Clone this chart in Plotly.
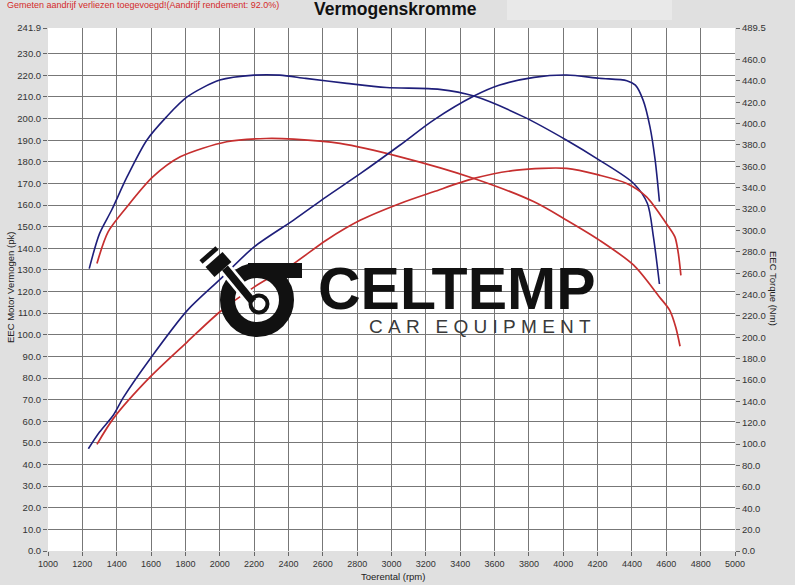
import numpy as np
import plotly.graph_objects as go

# Dyno run values
rpm_pk_blue = [1240, 1300, 1370, 1460, 1575, 1690, 1810, 2000, 2200, 2350, 2500, 2740,
               2970, 3280, 3480, 3770, 4020, 4210, 4410, 4490, 4525, 4560]
pk_blue = [130.6, 146.8, 157.6, 173.0, 190.0, 200.8, 210.0, 217.8, 220.1, 220.1, 218.6, 216.3,
           214.4, 213.5, 210.4, 200.8, 190.0, 180.8, 170.0, 160.7, 145.3, 123.5]

rpm_nm_blue = [1235, 1300, 1380, 1440, 1595, 1810, 2000, 2200, 2430, 2620, 2820, 3050,
               3245, 3480, 3630, 3830, 4020, 4210, 4370, 4420, 4465, 4505, 4535, 4560]
nm_blue = [95.7, 111.3, 127.0, 144.0, 180.0, 225.0, 254.0, 284.6, 309.7, 331.5, 353.4, 380.0,
           403.3, 425.8, 436.1, 443.3, 445.5, 442.4, 440.2, 436.0, 422.0, 397.0, 366.0, 327.0]

rpm_pk_red = [1285, 1350, 1460, 1610, 1770, 2040, 2270, 2430, 2700, 3050, 3480, 3830,
              4020, 4210, 4410, 4560, 4620, 4655, 4680]
pk_red = [133.0, 147.6, 159.2, 173.0, 182.3, 189.3, 190.8, 190.5, 188.5, 182.3, 172.3, 161.5,
          153.0, 143.8, 132.2, 117.5, 111.3, 103.5, 94.7]

rpm_nm_red = [1285, 1380, 1595, 1810, 2000, 2200, 2430, 2620, 2820, 3050, 3245, 3480, 3730,
              4020, 4210, 4370, 4485, 4600, 4650, 4670, 4685]
nm_red = [99.8, 123.9, 162.9, 195.6, 223.7, 247.0, 269.0, 290.9, 309.7, 325.3, 336.2, 348.7, 356.5,
          358.1, 351.8, 344.0, 331.5, 306.5, 294.0, 278.5, 258.0]

x_ticks = list(range(1000, 5001, 200))
pk_ticks = [float(v) for v in range(0, 231, 10)] + [241.9]
nm_ticks = [float(v) for v in range(0, 461, 20)] + [489.5]

BLUE = "#1e1e7a"
RED = "#c62f2f"
FONT = "Liberation Sans, Arial, sans-serif"

# plot area in page pixels
L, R, T, B = 48, 735, 28, 551


def px(x):
    return (x - L) / (R - L)


def py(y):
    return (B - y) / (B - T)


def bar_path(x0, y0, x1, y1, w):
    # rotated rectangle round a centre line, pixel coords -> paper path
    d = np.array([x1 - x0, y1 - y0], dtype=float)
    n = np.array([-d[1], d[0]]) / np.hypot(*d) * w / 2
    pts = [(x0 + n[0], y0 + n[1]), (x1 + n[0], y1 + n[1]),
           (x1 - n[0], y1 - n[1]), (x0 - n[0], y0 - n[1])]
    s = "M " + " L ".join(f"{px(a):.5f},{py(b):.5f}" for a, b in pts) + " Z"
    return s


fig = go.Figure()
fig.add_trace(go.Scatter(x=rpm_pk_blue, y=pk_blue, mode="lines", name="Vermogen",
                         line=dict(color=BLUE, width=1.6, shape="spline", smoothing=0.8)))
fig.add_trace(go.Scatter(x=rpm_nm_blue, y=nm_blue, mode="lines", name="Torque", yaxis="y2",
                         line=dict(color=BLUE, width=1.6, shape="spline", smoothing=0.8)))
fig.add_trace(go.Scatter(x=rpm_pk_red, y=pk_red, mode="lines", name="Vermogen (2)",
                         line=dict(color=RED, width=1.7, shape="spline", smoothing=0.8)))
fig.add_trace(go.Scatter(x=rpm_nm_red, y=nm_red, mode="lines", name="Torque (2)", yaxis="y2",
                         line=dict(color=RED, width=1.7, shape="spline", smoothing=0.8)))

grid = "#777777"
fig.update_layout(
    width=795, height=585,
    margin=dict(l=L, r=795 - R, t=T, b=585 - B),
    paper_bgcolor="#e0e0e0", plot_bgcolor="white",
    showlegend=False,
    font=dict(family=FONT, size=9, color="#333"),
    xaxis=dict(range=[1000, 5000], tickvals=x_ticks, ticks="outside", ticklen=4,
               tickcolor="#666", gridcolor=grid, gridwidth=1, zeroline=False,
               showline=False, tickfont=dict(size=9)),
    yaxis=dict(range=[0, 241.9], tickvals=pk_ticks, ticktext=[f"{v:.1f}" for v in pk_ticks],
               ticks="outside", ticklen=4, tickcolor="#666", gridcolor=grid, gridwidth=1,
               zeroline=False, showline=False, tickfont=dict(size=9.5)),
    yaxis2=dict(range=[0, 489.5], overlaying="y", side="right", tickvals=nm_ticks,
                ticktext=[f"{v:.1f}" for v in nm_ticks], ticks="outside", ticklen=4,
                tickcolor="#666", showgrid=False, zeroline=False, showline=False,
                tickfont=dict(size=9.5)),
)

# light box top right of title
fig.add_shape(type="rect", xref="paper", yref="paper", x0=px(507), x1=px(672),
              y0=py(20), y1=py(0), fillcolor="#e9e9e9", line_width=0, layer="below")

texts = [
    dict(x=px(395), y=py(9), text="<b>Vermogenskromme</b>", font=dict(size=17.5, color="#111")),
    dict(x=px(5), y=py(5), xanchor="left",
         text="Gemeten aandrijf verliezen toegevoegd!(Aandrijf rendement: 92.0%)",
         font=dict(size=9, color="#d42a2a")),
    dict(x=px(393), y=py(576), text="Toerental (rpm)", font=dict(size=9.5, color="#222")),
    dict(x=px(10), y=py(288), text="EEC Motor Vermogen (pk)", textangle=-90,
         font=dict(size=9.5, color="#222")),
    dict(x=px(774), y=py(288), text="EEC Torque (Nm)", textangle=90,
         font=dict(size=9.5, color="#222")),
    # watermark
    dict(x=px(457), y=py(289), text="<b>CELTEMP</b>", font=dict(size=59, color="#111")),
    dict(x=px(480), y=py(326), text="C\u00a0A\u00a0R\u00a0\u00a0\u00a0E\u00a0Q\u00a0U\u00a0I\u00a0P\u00a0M\u00a0E\u00a0N\u00a0T",
         font=dict(size=19, color="#3a3a3a")),
]
for t in texts:
    fig.add_annotation(xref="paper", yref="paper", showarrow=False,
                       xanchor=t.pop("xanchor", "center"), yanchor="middle", **t)

# logo icon
cx, cy, rr = 257, 300, 29.5
fig.add_shape(type="circle", xref="paper", yref="paper", x0=px(cx - rr), x1=px(cx + rr),
              y0=py(cy + rr), y1=py(cy - rr), line=dict(color="#111", width=15))
fig.add_shape(type="rect", xref="paper", yref="paper", x0=px(248), x1=px(302),
              y0=py(278), y1=py(263), fillcolor="#111", line_width=0)
fig.add_shape(type="path", xref="paper", yref="paper", path=bar_path(225, 268, 253, 302, 13),
              fillcolor="white", line_width=0)
fig.add_shape(type="path", xref="paper", yref="paper", path=bar_path(225, 268, 253, 302, 7.5),
              fillcolor="#111", line_width=0)
fig.add_shape(type="circle", xref="paper", yref="paper", x0=px(259 - 8.5), x1=px(259 + 8.5),
              y0=py(304 + 8.5), y1=py(304 - 8.5), line=dict(color="#111", width=4))
fig.add_shape(type="path", xref="paper", yref="paper", path=bar_path(210, 272, 227, 257, 13.5),
              fillcolor="#111", line_width=0)
fig.add_shape(type="path", xref="paper", yref="paper", path=bar_path(201, 262, 217, 248, 4.8),
              fillcolor="#111", line_width=0)

# page body margin would push the 795x585 figure off the window
fig.write_html("out.html", config={"displayModeBar": False},
               post_script="document.body.style.margin='0';")
